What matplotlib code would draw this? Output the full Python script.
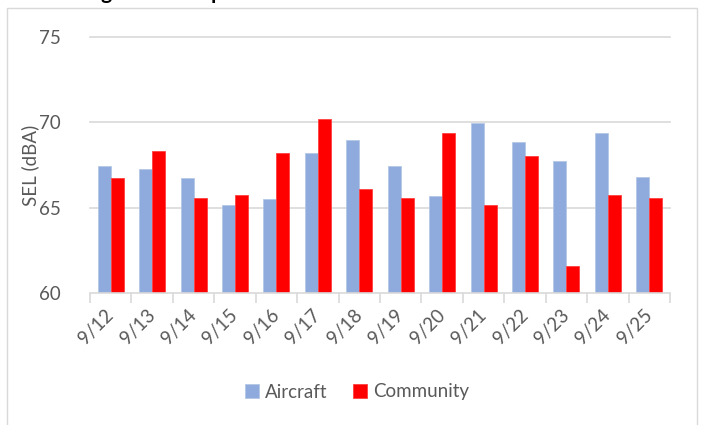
import matplotlib
matplotlib.use("Agg")
import matplotlib.pyplot as plt
from matplotlib.patches import Rectangle
import numpy as np

plt.rcParams['font.family'] = ['Lato', 'DejaVu Sans']

dates = ["9/12", "9/13", "9/14", "9/15", "9/16", "9/17", "9/18",
         "9/19", "9/20", "9/21", "9/22", "9/23", "9/24", "9/25"]
aircraft = [67.43, 67.28, 66.73, 65.13, 65.48, 68.23, 68.97,
            67.43, 65.66, 69.94, 68.85, 67.76, 69.36, 66.81]
community = [66.73, 68.33, 65.58, 65.72, 68.23, 70.20, 66.07,
             65.56, 69.40, 65.15, 68.05, 61.57, 65.74, 65.54]
yticks = [60, 65, 70, 75]

W, H = 702, 425
fig = plt.figure(figsize=(W / 100, H / 100), dpi=100)

# chart frame
fig.patches.append(Rectangle((7 / W, -0.05), (697 - 7) / W, (H - 8) / H + 0.05,
                             transform=fig.transFigure, fill=False,
                             edgecolor='#D9D9D9', linewidth=1.0))

# title (clipped at top edge, as in the reference)
fig.text(0.065, (H + 1) / H, "Average SEL Comparison", fontsize=15,
         fontweight='bold', color='black', ha='left', va='baseline')

ax = fig.add_axes([90 / W, (H - 293) / H, 580 / W, (293 - 37) / H])
x = np.arange(len(dates))
bw = 0.315
ax.bar(x - bw / 2, [a - 60 for a in aircraft], bw, bottom=60, color='#8FAADC',
       edgecolor='#B4C7E7', linewidth=0.6, label='Aircraft', zorder=3)
ax.bar(x + bw / 2, [c - 60 for c in community], bw, bottom=60, color='#FF0000',
       edgecolor='#FF4040', linewidth=0.6, label='Community', zorder=3)

ax.set_xlim(-0.5, len(dates) - 0.5)
ax.set_ylim(60, 75)
ax.set_yticks(yticks)
ax.set_yticklabels([str(v) for v in yticks])
for v in yticks[1:]:
    ax.axhline(v, color='#D9D9D9', linewidth=1.2, zorder=1, clip_on=False)

for s in ['top', 'right', 'left']:
    ax.spines[s].set_visible(False)
ax.spines['bottom'].set_color('#D9D9D9')
ax.spines['bottom'].set_linewidth(1.2)
ax.spines['bottom'].set_zorder(4)

ax.tick_params(axis='y', length=0, labelsize=13.5, labelcolor='#595959', pad=21)
ax.set_xticks(x)
ax.set_xticklabels(dates, rotation=45, ha='right', va='center',
                   rotation_mode='anchor')
ax.tick_params(axis='x', which='major', length=0, labelsize=13.5,
               labelcolor='#595959', pad=14)
ax.set_xticks(np.arange(-0.5, len(dates), 1.0), minor=True)
ax.tick_params(axis='x', which='minor', length=7, width=1.2, color='#D9D9D9')

fig.text(30 / W, (H - 165) / H, "SEL (dBA)", rotation=90, fontsize=13.5,
         color='#595959', ha='center', va='center')

leg = fig.legend(loc='center', bbox_to_anchor=(357 / W, (H - 392) / H),
                 ncol=2, frameon=False, fontsize=13.5, handlelength=0.75,
                 handleheight=0.75, handletextpad=0.3, columnspacing=1.4)
for t in leg.get_texts():
    t.set_color('#595959')

fig.savefig("out.png", dpi=100)
